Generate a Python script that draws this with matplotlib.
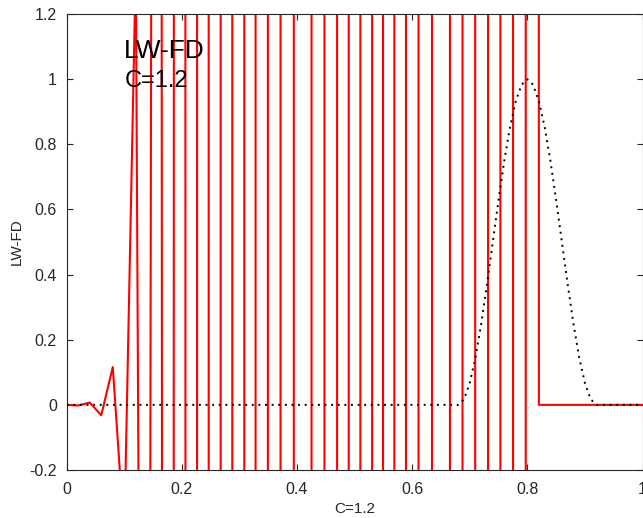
import matplotlib
matplotlib.use("Agg")
import matplotlib.pyplot as plt
import numpy as np

plt.rcParams['font.family'] = ['Liberation Sans', 'DejaVu Sans']

# numerical solution (Lax-Wendroff, C=1.2) on grid dx=0.02
x_num = [i * 0.02 for i in range(51)]
u_num = [0.0, -0.002, 0.007, -0.032, 0.116, -0.40, 1.35, -5.4, 14.4, -38.9,
         92.6, -206.0, 438.0, -889.0, 1512.0, -2467.0, 3407.0, -5110.0, 5762.0, -4346.0,
         1690.0, 1500.0, -4275.0, 6968.0, -7549.0, 7851.0, -7851.0, 7247.0, -8175.0, 9990.0,
         -11728.0, 9594.0, -3731.0, -3300.0, 8486.0, -14426.0, 16273.0, -11310.0, 5825.0, -1841.0,
         300.0, 0.0, 0.0, 0.0, 0.0, 0.0, 0.0, 0.0, 0.0, 0.0, 0.0]

# exact solution on grid dx=0.01
x_ex = [i * 0.01 for i in range(101)]
bump = [0.017, 0.067, 0.146, 0.25, 0.371, 0.5, 0.629, 0.75, 0.854, 0.933, 0.983,
        1.0,
        0.983, 0.933, 0.854, 0.75, 0.629, 0.5, 0.371, 0.25, 0.146, 0.067, 0.017]
u_ex = [0.0] * 69 + bump + [0.0] * (101 - 69 - len(bump))

xticks = [0, 0.2, 0.4, 0.6, 0.8, 1.0]
xticklabels = ['0', '0.2', '0.4', '0.6', '0.8', '1']
yticks = [-0.2, 0, 0.2, 0.4, 0.6, 0.8, 1.0, 1.2]
yticklabels = ['-0.2', '0', '0.2', '0.4', '0.6', '0.8', '1', '1.2']

fig = plt.figure(figsize=(6.43, 5.18), dpi=100)
ax = fig.add_axes([66.7 / 643, 1 - 470 / 518, (642.5 - 66.7) / 643, (470 - 14) / 518])

ax.plot(x_num, u_num, color='#ff0000', lw=1.5, zorder=2)
ax.plot(x_ex, u_ex, color='black', lw=1.4, linestyle=(0, (1, 2.4)), zorder=3)

ax.set_xlim(0, 1)
ax.set_ylim(-0.2, 1.2)
ax.set_xticks(xticks)
ax.set_xticklabels(xticklabels)
ax.set_yticks(yticks)
ax.set_yticklabels(yticklabels)

axcol = '#262626'
for s in ax.spines.values():
    s.set_color(axcol)
    s.set_linewidth(0.8)
ax.tick_params(direction='in', length=4, width=0.8, color=axcol, labelsize=11.5,
               labelcolor=axcol, top=True, right=True)
ax.tick_params(axis='x', pad=9)
ax.tick_params(axis='y', pad=7)

ax.set_xlabel('C=1.2', fontsize=11, color=axcol, labelpad=3)
ax.set_ylabel('LW-FD', fontsize=11, color=axcol, labelpad=4)

ax.text(0.1, 1.065, 'LW-FD', fontsize=19, color='black', va='baseline', ha='left')
ax.text(0.1, 0.975, 'C=1.2', fontsize=17, color='black', va='baseline', ha='left')

fig.savefig('out.png', dpi=100)
